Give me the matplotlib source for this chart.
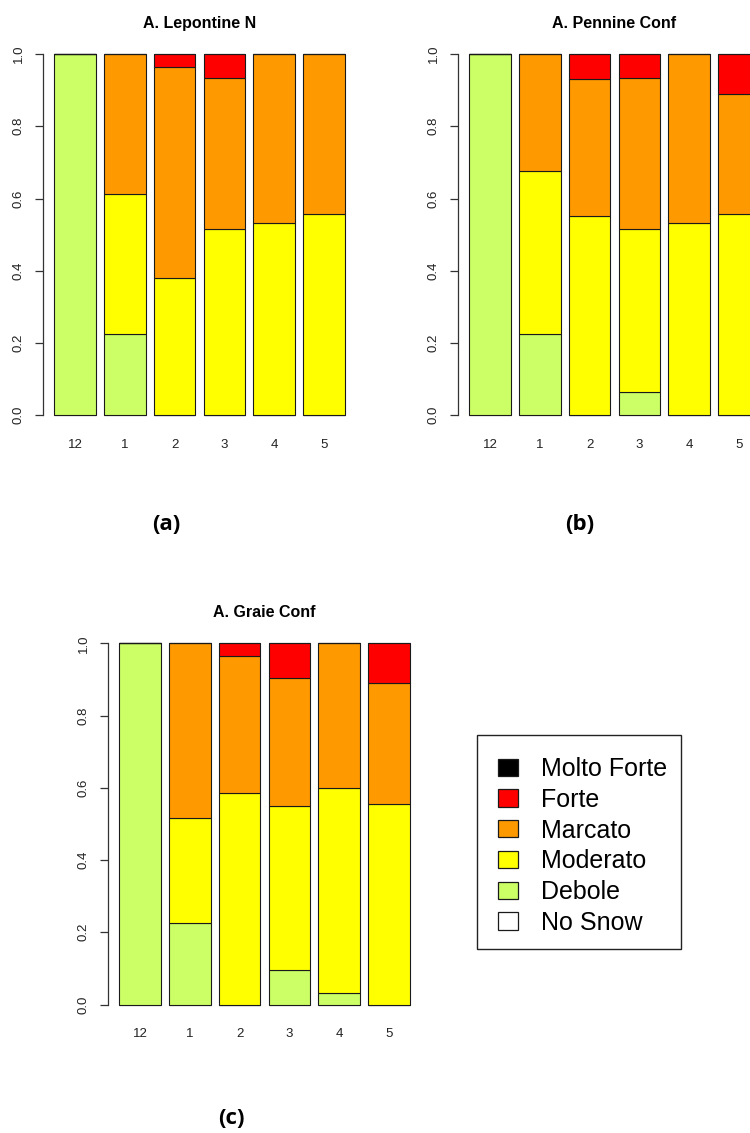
import matplotlib
matplotlib.use("Agg")
import matplotlib.pyplot as plt
from matplotlib.patches import Patch, Rectangle
import numpy as np

plt.rcParams['font.family'] = ['Liberation Sans', 'DejaVu Sans']

# Month labels on the x axis
months = ["12", "1", "2", "3", "4", "5"]

# Danger classes, bottom to top of each stack
classes = ["No Snow", "Debole", "Moderato", "Marcato", "Forte", "Molto Forte"]
class_colors = ["#FFFFFF", "#CCFF66", "#FFFF00", "#FF9900", "#FF0000", "#000000"]

# A. Lepontine N – relative frequency of each class per month
lep_nosnow = [0, 0, 0, 0, 0, 0]
lep_debole = [1.0, 0.226, 0, 0, 0, 0]
lep_moderato = [0, 0.387, 0.379, 0.516, 0.533, 0.556]
lep_marcato = [0, 0.387, 0.586, 0.419, 0.467, 0.444]
lep_forte = [0, 0, 0.035, 0.065, 0, 0]
lep_moltoforte = [0, 0, 0, 0, 0, 0]

# A. Pennine Conf
pen_nosnow = [0, 0, 0, 0, 0, 0]
pen_debole = [1.0, 0.226, 0, 0.064, 0, 0]
pen_moderato = [0, 0.451, 0.552, 0.452, 0.533, 0.556]
pen_marcato = [0, 0.323, 0.379, 0.419, 0.467, 0.333]
pen_forte = [0, 0, 0.069, 0.065, 0, 0.111]
pen_moltoforte = [0, 0, 0, 0, 0, 0]

# A. Graie Conf
gra_nosnow = [0, 0, 0, 0, 0, 0]
gra_debole = [1.0, 0.226, 0, 0.097, 0.033, 0]
gra_moderato = [0, 0.290, 0.586, 0.452, 0.567, 0.556]
gra_marcato = [0, 0.484, 0.379, 0.354, 0.400, 0.333]
gra_forte = [0, 0, 0.035, 0.097, 0, 0.111]
gra_moltoforte = [0, 0, 0, 0, 0, 0]

panels = [
    ("A. Lepontine N", [lep_nosnow, lep_debole, lep_moderato, lep_marcato, lep_forte, lep_moltoforte]),
    ("A. Pennine Conf", [pen_nosnow, pen_debole, pen_moderato, pen_marcato, pen_forte, pen_moltoforte]),
    ("A. Graie Conf", [gra_nosnow, gra_debole, gra_moderato, gra_marcato, gra_forte, gra_moltoforte]),
]

W, H = 750, 1133
fig = plt.figure(figsize=(W / 100, H / 100), dpi=100)

def px_axes(left, top, width, height):
    return fig.add_axes([left / W, 1 - (top + height) / H, width / W, height / H])

axes_boxes = [
    (42.7, 39.6, 313.7, 390.1),
    (457.7, 39.6, 313.7, 390.1),
    (107.7, 628.9, 313.7, 390.1),
]

# barplot-style geometry: width 1, gap 0.2
bar_width = 1.0
gap = 0.2
x = gap + bar_width / 2 + np.arange(len(months)) * (bar_width + gap)

for (title, series), box in zip(panels, axes_boxes):
    ax = px_axes(*box)
    bottom = np.zeros(len(months))
    for vals, col in zip(series, class_colors):
        v = np.array(vals, dtype=float)
        ax.bar(x, v, width=bar_width, bottom=bottom, color=col,
               edgecolor="#1a1a1a", linewidth=0.8)
        bottom += v
    ax.set_xlim(-0.08, 7.48)
    ax.set_ylim(-0.04, 1.04)
    for s in ["top", "right", "bottom"]:
        ax.spines[s].set_visible(False)
    ax.spines["left"].set_bounds(0, 1)
    ax.spines["left"].set_color("#333333")
    ax.spines["left"].set_linewidth(0.9)
    ax.set_yticks([0, 0.2, 0.4, 0.6, 0.8, 1.0])
    ax.set_yticklabels(["0.0", "0.2", "0.4", "0.6", "0.8", "1.0"],
                       rotation=90, va="center", fontsize=9.5, color="#222222")
    ax.tick_params(axis="y", length=5.8, width=0.9, color="#333333", pad=7)
    ax.set_xticks(x)
    ax.set_xticklabels(months, fontsize=9.5, color="#222222")
    ax.tick_params(axis="x", length=0, pad=6.5)
    ax.set_title(title, fontsize=11.5, fontweight="bold", pad=8.5)
    ax.patch.set_visible(False)

# Panel captions
cap_font = dict(fontsize=16, fontweight="bold", family=["Open Sans", "DejaVu Sans"],
                ha="center", va="center")
fig.text(166.7 / W, 1 - 524 / H, "(a)", **cap_font)
fig.text(580 / W, 1 - 524 / H, "(b)", **cap_font)
fig.text(231.7 / W, 1 - 1119 / H, "(c)", **cap_font)

# Legend box frame
fig.patches.append(Rectangle((476.7 / W, 1 - 949 / H), 204 / W, 214 / H,
                             transform=fig.transFigure, facecolor="none",
                             edgecolor="#222222", linewidth=1.0))

# Legend entries, top class first
handles = [Patch(facecolor=c, edgecolor="#1a1a1a", linewidth=0.9, label=l)
           for c, l in zip(class_colors[::-1], classes[::-1])]
leg = fig.legend(handles=handles, loc="upper left",
                 bbox_to_anchor=(498.3 / W, 1 - 757 / H),
                 bbox_transform=fig.transFigure,
                 fontsize=18, frameon=False, borderaxespad=0, borderpad=0,
                 handlelength=0.8, handleheight=0.68, handletextpad=0.9,
                 labelspacing=0.27)

fig.savefig("out.png", dpi=100)
